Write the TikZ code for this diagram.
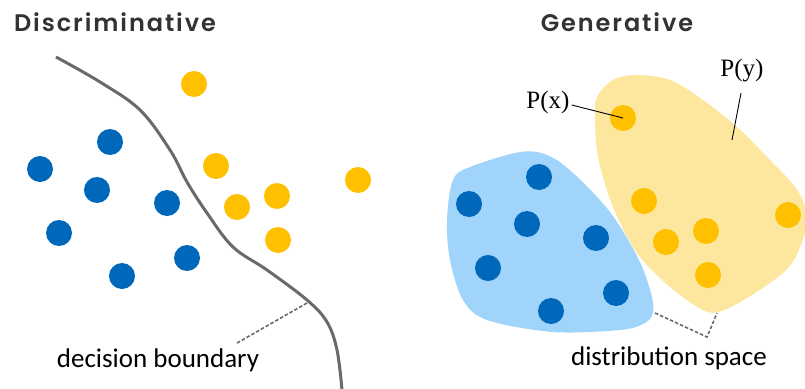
\documentclass[tikz,border=0pt]{standalone}
\usepackage{fontspec}
\newfontfamily\titlefont[LetterSpace=8]{Poppins SemiBold}
\newfontfamily\labelfont{Carlito}
\newfontfamily\seriffont{Liberation Serif}
\definecolor{dotblue}{HTML}{0068BB}
\definecolor{dotyellow}{HTML}{FFC000}
\definecolor{blobblue}{HTML}{A0D4FA}
\definecolor{blobyellow}{HTML}{FDE79E}
\definecolor{titlegray}{HTML}{333333}
\definecolor{linegray}{HTML}{6A6A6A}
\begin{document}
\begin{tikzpicture}[x=1pt,y=-1pt,
  bdot/.style={circle,fill=dotblue,minimum size=26pt,inner sep=0pt},
  ydot/.style={circle,fill=dotyellow,minimum size=26pt,inner sep=0pt},
  title/.style={font=\titlefont\fontsize{24}{26}\selectfont,text=titlegray},
  lab/.style={font=\labelfont\fontsize{27}{29}\selectfont,text=black},
  plab/.style={font=\seriffont\fontsize{25}{27}\selectfont,text=black,inner sep=0pt},
  dashline/.style={draw=linegray,dashed,dash pattern=on 3.5pt off 2pt,line width=1.6pt}]
\useasboundingbox (0,0) rectangle (805,388);
% titles
\node[title] (t1) at (115,22) {Discriminative};
\node[title] (t2) at (617,22) {Generative};
% decision boundary
\draw[linegray,line width=3pt] plot[smooth,tension=0.6] coordinates {(56,57) (100,82) (140,110) (170,150) (187,182) (207,213) (233,247) (267,270) (307,300) (327,322) (337,350) (342,390)};
\coordinate (db) at (307,303);
\node[lab,anchor=base] (dbl) at (158,367) {decision boundary};
\coordinate (dbs) at (237,343);
\draw[dashline] (dbs) -- (db);
% left dots
\node[bdot] (lb1) at (110,142) {};
\node[bdot] (lb2) at (40,169) {};
\node[bdot] (lb3) at (97,190) {};
\node[bdot] (lb4) at (167,203) {};
\node[bdot] (lb5) at (59,233) {};
\node[bdot] (lb6) at (187,258) {};
\node[bdot] (lb7) at (122,276) {};
\node[ydot] (ly1) at (194,84) {};
\node[ydot] (ly2) at (216,166) {};
\node[ydot] (ly3) at (358,180) {};
\node[ydot] (ly4) at (277,196) {};
\node[ydot] (ly5) at (237,207) {};
\node[ydot] (ly6) at (278,240) {};
% blobs
\fill[blobblue] plot[smooth cycle,tension=0.55] coordinates {(470,167) (520,152) (547,155) (572,172) (610,212) (638,258) (651,293) (653,312) (645,323) (620,330) (553,332) (487,320) (463,300) (450,260) (447,220) (453,180)};
\fill[blobyellow] plot[smooth cycle,tension=0.55] coordinates {(597,97) (613,80) (637,75) (670,80) (703,100) (737,127) (770,160) (795,187) (805,207) (805,233) (789,267) (755,293) (722,311) (703,310) (670,287) (637,253) (613,207) (598,157) (595,117)};
% right dots
\node[bdot] (rb1) at (539,177) {};
\node[bdot] (rb2) at (469,204) {};
\node[bdot] (rb3) at (527,224) {};
\node[bdot] (rb4) at (596,238) {};
\node[bdot] (rb5) at (488,268) {};
\node[bdot] (rb6) at (616,293) {};
\node[bdot] (rb7) at (551,311) {};
\node[ydot] (ry1) at (623,118) {};
\node[ydot] (ry2) at (644,201) {};
\node[ydot] (ry3) at (788,215) {};
\node[ydot] (ry4) at (706,231) {};
\node[ydot] (ry5) at (666,242) {};
\node[ydot] (ry6) at (708,275) {};
% P labels
\node[plab] (px) at (548,102) {P(x)};
\draw[black,line width=0.9pt] (px.east) ++(2,3) -- (ry1.center);
\node[plab] (py) at (742,71) {P(y)};
\coordinate (pyend) at (732,140);
\draw[black,line width=0.9pt] (741,93) -- (pyend);
% distribution space
\coordinate (ds1) at (655,313);
\coordinate (ds2) at (707,337);
\coordinate (ds3) at (717,313);
\draw[dashline] (ds1) -- (ds2) -- (ds3);
\node[lab,anchor=base] (dsl) at (669,365) {distribution space};
\end{tikzpicture}
\end{document}
